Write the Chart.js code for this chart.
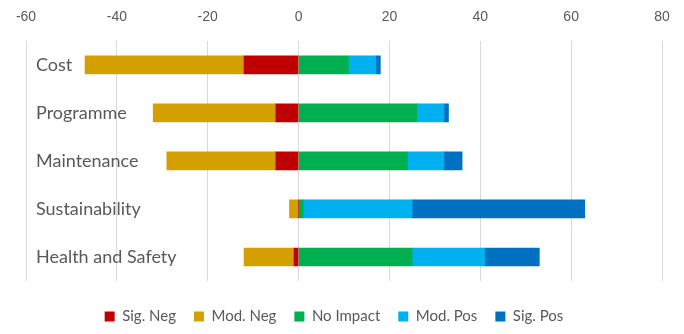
<!DOCTYPE html>
<html>
<head>
<meta charset="utf-8">
<script src="https://cdn.jsdelivr.net/npm/chart.js@4.4.1/dist/chart.umd.min.js"></script>
<style>
  html, body { margin: 0; padding: 0; background: #fff; }
  #wrap { width: 684px; height: 334px; }
</style>
</head>
<body>
<div id="wrap"><canvas id="myChart"></canvas></div>
<script>
// categories and series
const categories = ["Cost", "Programme", "Maintenance", "Sustainability", "Health and Safety"];
const sigNeg = [-12, -5, -5, 0, -1];
const modNeg = [-35, -27, -24, -2, -11];
const noImpact = [11, 26, 24, 1, 25];
const modPos = [6, 6, 8, 24, 16];
const sigPos = [1, 1, 4, 38, 12];

const grey = "#595959";

new Chart(document.getElementById("myChart"), {
  type: "bar",
  data: {
    labels: categories,
    datasets: [
      { label: "Sig. Neg", data: sigNeg, backgroundColor: "#C00000" },
      { label: "Mod. Neg", data: modNeg, backgroundColor: "#D4A000" },
      { label: "No Impact", data: noImpact, backgroundColor: "#00B050" },
      { label: "Mod. Pos", data: modPos, backgroundColor: "#00B0F0" },
      { label: "Sig. Pos", data: sigPos, backgroundColor: "#0070C0" },
    ],
  },
  options: {
    indexAxis: "y",
    responsive: true,
    maintainAspectRatio: false,
    animation: false,
    layout: { padding: { left: 6, right: 22, top: 0, bottom: 0 } },
    datasets: { bar: { barThickness: 18 } },
    scales: {
      x: {
        position: "top",
        stacked: true,
        min: -60,
        max: 80,
        ticks: {
          stepSize: 20,
          padding: 9,
          color: grey,
          font: { family: "'Liberation Sans', Arial, sans-serif", size: 14 },
        },
        grid: { color: "#d9d9d9", lineWidth: 1, tickLength: 6, tickColor: "rgba(0,0,0,0)" },
        border: { display: false },
      },
      y: {
        stacked: true,
        grid: { display: false, drawTicks: false },
        border: { display: false },
        ticks: {
          mirror: true,
          padding: 10,
          color: grey,
          font: { family: "Lato, 'Open Sans', sans-serif", size: 18 },
        },
      },
    },
    plugins: {
      tooltip: { enabled: false },
      legend: {
        position: "bottom",
        title: { display: true, text: "", padding: 0, font: { size: 10, lineHeight: 1 } },
        labels: {
          boxWidth: 10,
          boxHeight: 10,
          padding: 18,
          color: grey,
          font: { family: "Lato, 'Open Sans', sans-serif", size: 15 },
        },
      },
    },
  },
});
</script>
</body>
</html>
